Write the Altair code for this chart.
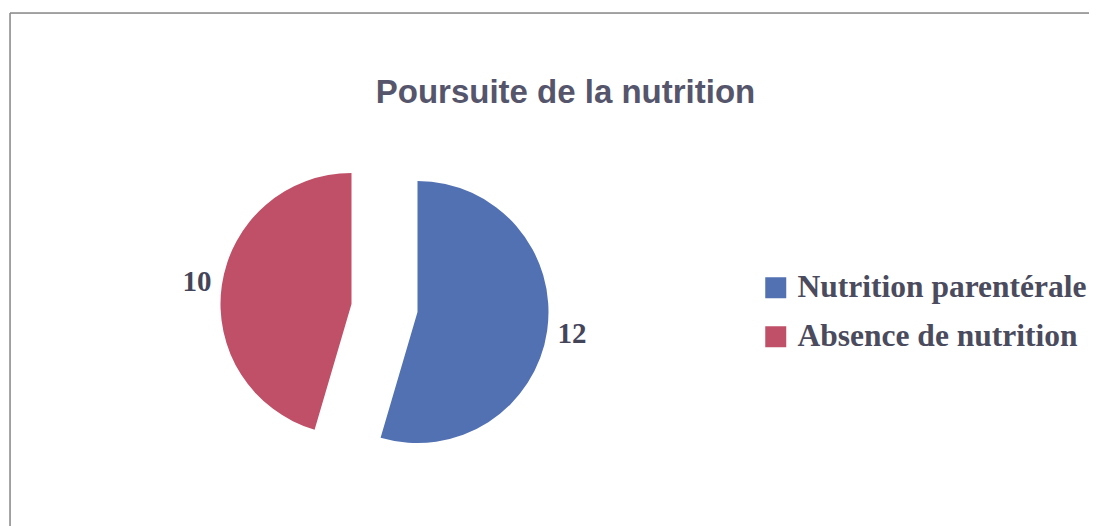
import altair as alt
import pandas as pd

categories = ["Nutrition parentérale", "Absence de nutrition"]
values = [12, 10]
order = [0, 1]
colors = ["#5271b3", "#bf5068"]

W, H = 1079, 520

df = pd.DataFrame({"cat": categories, "val": values, "ordre": order})

color = alt.Color(
    "cat:N",
    scale=alt.Scale(domain=categories, range=colors),
    sort=categories,
    legend=alt.Legend(
        title=None,
        orient="none",
        legendX=750,
        legendY=259,
        symbolType="square",
        symbolSize=441,
        symbolStrokeWidth=0,
        labelFont="Liberation Serif",
        labelFontWeight="bold",
        labelFontSize=31.5,
        labelColor="#4b4b5e",
        labelOffset=6,
        rowPadding=16,
        labelLimit=400,
    ),
)

base = (
    alt.Chart(df)
    .transform_joinaggregate(total="sum(val)")
    .transform_window(cum="sum(val)", sort=[alt.SortField("ordre")], frame=[None, 0])
    .transform_calculate(
        t1="datum.cum / datum.total",
        t0="(datum.cum - datum.val) / datum.total",
        tm="(datum.cum - datum.val / 2) / datum.total",
    )
)

theta_scale = alt.Scale(domain=[0, 1], range=[0, 6.283185307179586])

# frame lines (top and left edges of the chart border)
frame_df = pd.DataFrame({"k": [0]})
frame_top = alt.Chart(frame_df).mark_rule(color="#8a8a8a", strokeWidth=1.5).encode(
    x=alt.value(0), x2=alt.value(W + 40), y=alt.value(0)
)
frame_left = alt.Chart(frame_df).mark_rule(color="#8a8a8a", strokeWidth=1.5).encode(
    x=alt.value(0), y=alt.value(0), y2=alt.value(H + 20)
)

layers = [frame_top, frame_left]
offsets = {categories[0]: (-132, 39), categories[1]: (-198, 31)}
for cat in categories:
    dx, dy = offsets[cat]
    sub = base.transform_filter(alt.datum.cat == cat)
    arc = sub.mark_arc(outerRadius=131, xOffset=dx, yOffset=dy, stroke=None).encode(
        theta=alt.Theta("t0:Q", scale=theta_scale, stack=None),
        theta2="t1:Q",
        color=color,
    )
    txt = sub.mark_text(
        radius=156,
        xOffset=dx,
        yOffset=dy,
        font="Liberation Serif",
        fontWeight="bold",
        fontSize=29,
        color="#45455a",
    ).encode(
        theta=alt.Theta("tm:Q", scale=theta_scale, stack=None),
        text=alt.Text("val:Q"),
    )
    layers += [arc, txt]

chart = (
    alt.layer(*layers)
    .properties(
        width=W,
        height=H,
        title=alt.TitleParams(
            "Poursuite de la nutrition",
            font="Liberation Sans",
            fontWeight="bold",
            fontSize=33,
            color="#55556b",
            anchor="middle",
            orient="top",
            offset=-124,
            dx=16,
            baseline="alphabetic",
        ),
        autosize=alt.AutoSizeParams(type="none"),
        padding={"left": 2, "top": 5, "right": 0, "bottom": 0},
    )
    .configure_view(stroke=None)
    .configure(background="white")
)

chart.save("out.html", embed_options={"renderer": "svg", "actions": False})
